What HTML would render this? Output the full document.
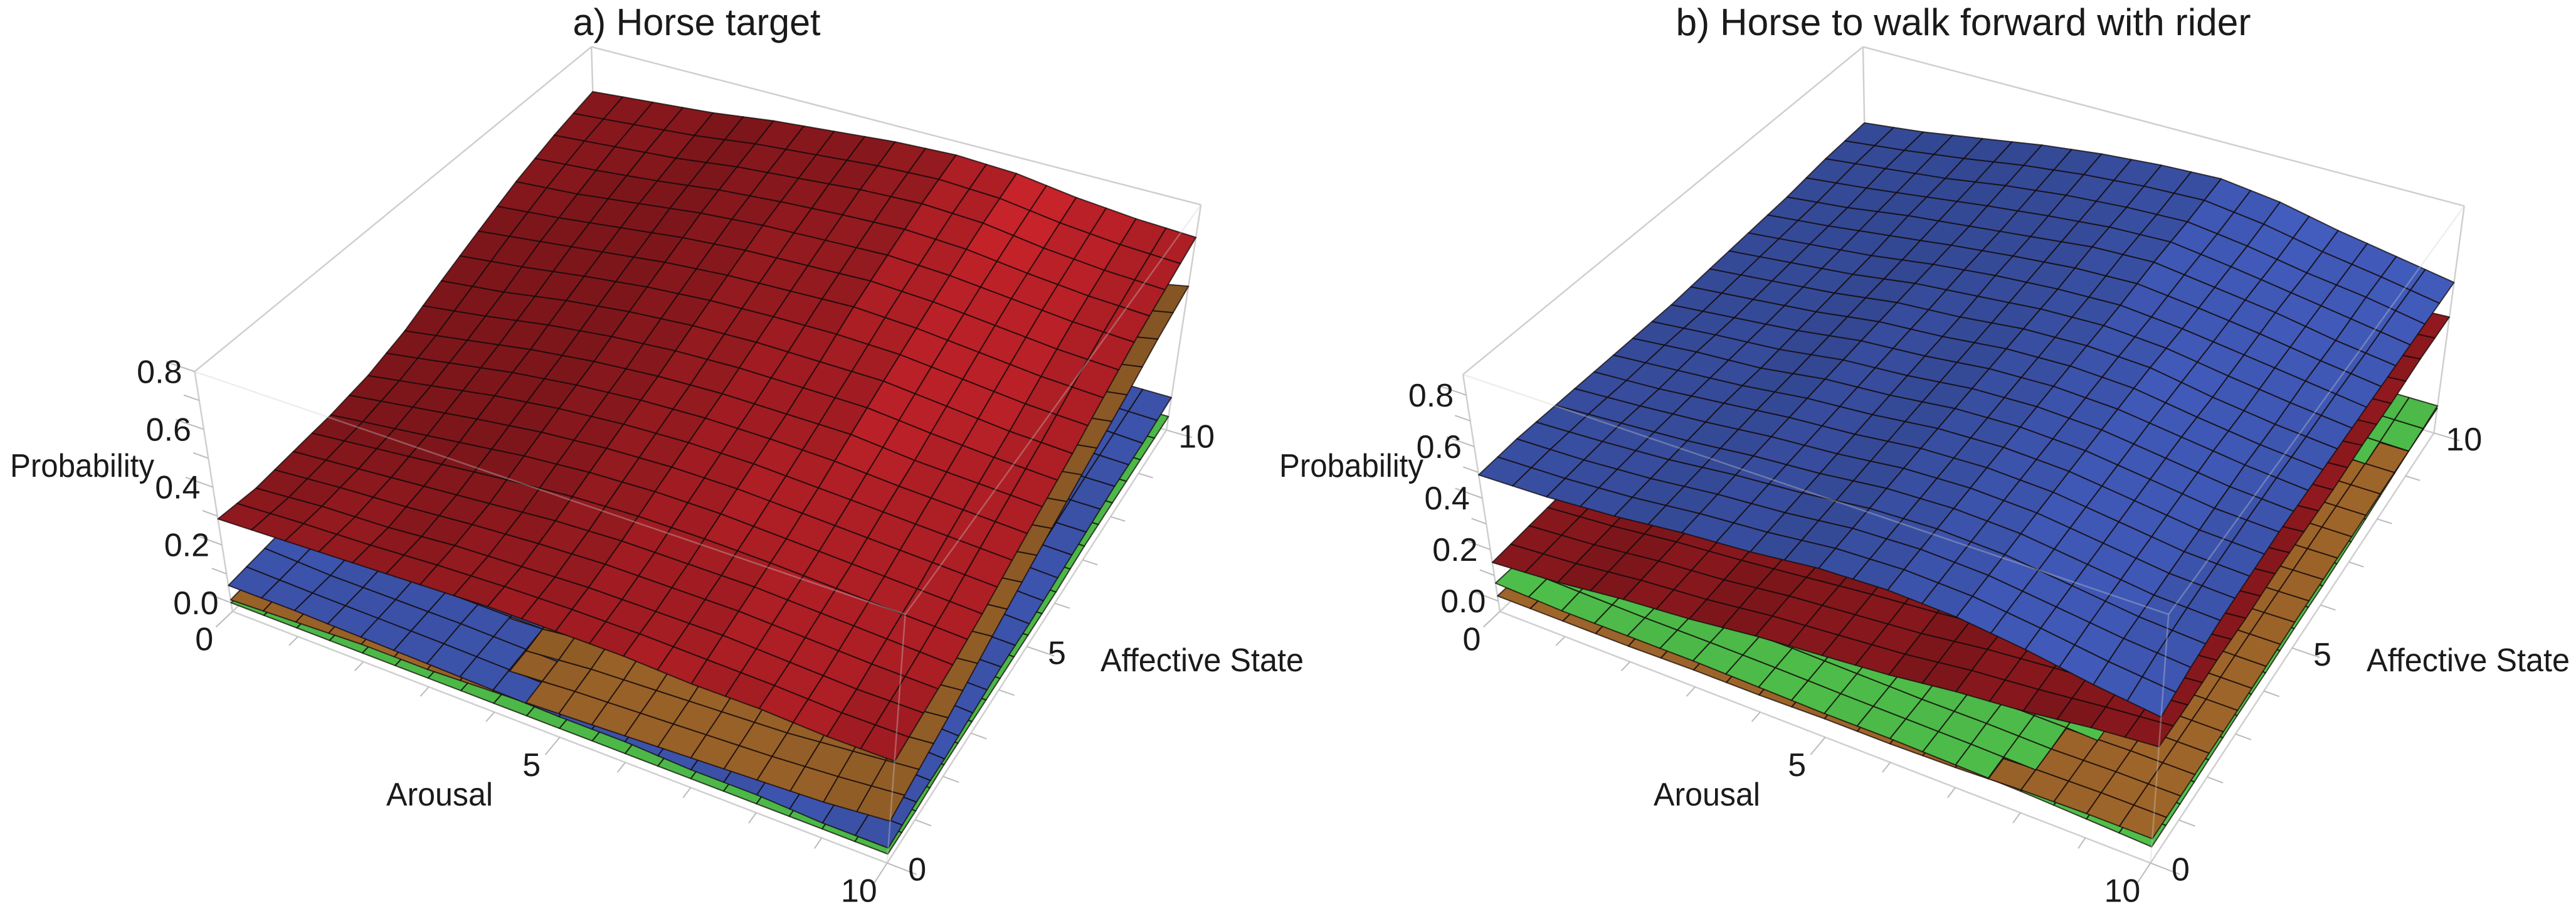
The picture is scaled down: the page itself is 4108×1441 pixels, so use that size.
<!DOCTYPE html>
<html><head><meta charset="utf-8"><style>
html,body{margin:0;padding:0;background:#fff;}
svg{display:block;}
text{font-family:"Liberation Sans Narrow","Liberation Sans",sans-serif;fill:#1a1a1a;}
</style></head><body>
<svg id="chart" width="4108" height="1441" viewBox="0 0 4108 1441" xmlns="http://www.w3.org/2000/svg">
<g id="panelA"></g>
<g id="panelB"></g>
</svg>
<script>
// ---- data: rows = arousal 0..10, columns = affective state 0..10 ----
const zTicks=[0,0.2,0.4,0.6,0.8];
const zTickLabels=["0.0","0.2","0.4","0.6","0.8"];
const xTicks=[0,5,10];
const xTickLabels=["0","5","10"];

const redA=[
[.29,.28,.29,.30,.32,.36,.42,.48,.54,.59,.63],
[.30,.30,.31,.33,.36,.40,.45,.51,.56,.61,.65],
[.31,.31,.33,.36,.40,.44,.49,.54,.59,.63,.67],
[.32,.33,.35,.39,.43,.47,.52,.57,.62,.66,.70],
[.33,.34,.37,.41,.45,.49,.54,.59,.64,.68,.72],
[.33,.35,.38,.42,.46,.50,.55,.60,.65,.70,.74],
[.33,.35,.38,.42,.46,.50,.55,.61,.66,.71,.75],
[.32,.35,.38,.41,.45,.50,.55,.60,.65,.70,.74],
[.32,.34,.37,.40,.44,.48,.53,.58,.63,.67,.71],
[.31,.33,.36,.39,.43,.47,.51,.56,.61,.65,.69],
[.31,.33,.35,.38,.42,.46,.50,.55,.60,.64,.68]];
const orangeA=[
[.01,.02,.03,.04,.05,.07,.08,.10,.11,.13,.15],
[.02,.03,.04,.06,.08,.09,.11,.13,.15,.16,.18],
[.03,.04,.05,.07,.10,.12,.14,.16,.18,.20,.22],
[.03,.04,.06,.09,.11,.14,.16,.18,.21,.23,.25],
[.04,.05,.07,.10,.13,.16,.18,.21,.24,.26,.29],
[.05,.07,.10,.12,.15,.18,.21,.24,.27,.29,.32],
[.06,.08,.11,.14,.17,.20,.23,.26,.29,.32,.36],
[.07,.09,.12,.15,.19,.22,.25,.29,.32,.36,.39],
[.08,.10,.14,.17,.21,.24,.28,.31,.35,.39,.43],
[.09,.12,.15,.19,.23,.26,.30,.34,.38,.42,.46],
[.11,.14,.17,.21,.25,.29,.33,.37,.41,.46,.50]];
const blueA=[
[.06,.07,.08,.08,.09,.10,.10,.11,.12,.12,.13],
[.06,.06,.07,.08,.09,.09,.10,.11,.11,.12,.13],
[.055,.06,.07,.07,.08,.09,.10,.10,.11,.12,.12],
[.05,.06,.065,.07,.08,.08,.09,.10,.11,.11,.12],
[.045,.055,.065,.07,.07,.08,.09,.09,.10,.11,.11],
[.04,.05,.05,.06,.07,.08,.08,.09,.10,.10,.11],
[.04,.04,.05,.06,.06,.07,.08,.09,.09,.10,.11],
[.03,.04,.05,.05,.06,.07,.07,.08,.09,.10,.10],
[.03,.04,.04,.05,.06,.06,.07,.08,.08,.09,.10],
[.02,.03,.04,.05,.05,.06,.07,.07,.08,.09,.09],
[.02,.03,.03,.04,.05,.05,.06,.07,.08,.08,.09]];
const greenA=[
[.00,.00,.01,.01,.01,.01,.01,.02,.02,.02,.02],
[.00,.00,.01,.01,.01,.01,.01,.02,.02,.02,.02],
[.00,.00,.01,.01,.01,.01,.01,.02,.02,.02,.02],
[.00,.00,.01,.01,.01,.01,.01,.02,.02,.02,.02],
[.00,.00,.01,.01,.01,.01,.01,.02,.02,.02,.02],
[.00,.00,.01,.01,.01,.01,.01,.02,.02,.02,.02],
[.00,.00,.01,.01,.01,.01,.01,.02,.02,.02,.02],
[.00,.00,.01,.01,.01,.01,.01,.02,.02,.02,.02],
[.00,.00,.01,.01,.01,.01,.01,.02,.02,.02,.02],
[.00,.00,.01,.01,.01,.01,.01,.02,.02,.02,.02],
[.00,.00,.01,.01,.01,.01,.01,.02,.02,.02,.02]];

const blueB=[
[.49,.50,.50,.50,.50,.50,.51,.52,.53,.55,.56],
[.50,.51,.52,.52,.53,.53,.54,.55,.56,.58,.59],
[.52,.53,.54,.55,.55,.56,.57,.58,.60,.61,.63],
[.55,.56,.57,.58,.59,.60,.61,.62,.63,.65,.67],
[.57,.58,.59,.60,.61,.62,.63,.65,.66,.68,.70],
[.60,.61,.62,.63,.64,.65,.66,.67,.69,.70,.72],
[.61,.62,.63,.64,.65,.66,.67,.68,.70,.71,.73],
[.60,.61,.62,.63,.64,.65,.66,.66,.67,.68,.70],
[.57,.58,.59,.60,.61,.62,.62,.63,.64,.64,.65],
[.53,.55,.56,.57,.58,.59,.59,.60,.60,.61,.61],
[.50,.53,.55,.56,.57,.57,.57,.57,.57,.57,.57]];
const redB=[
[.15,.16,.17,.18,.19,.20,.21,.22,.23,.24,.25],
[.17,.18,.19,.20,.21,.22,.23,.24,.25,.26,.27],
[.20,.21,.22,.23,.23,.24,.25,.26,.27,.28,.29],
[.22,.23,.24,.25,.26,.26,.27,.28,.29,.30,.31],
[.25,.26,.26,.27,.28,.29,.29,.30,.31,.32,.33],
[.27,.28,.29,.29,.30,.31,.31,.32,.33,.34,.35],
[.29,.30,.31,.31,.32,.33,.33,.34,.35,.36,.36],
[.32,.33,.33,.34,.34,.35,.36,.36,.37,.38,.38],
[.34,.35,.35,.36,.36,.37,.37,.38,.39,.39,.40],
[.37,.37,.38,.38,.39,.39,.40,.40,.41,.41,.42],
[.39,.39,.40,.40,.41,.41,.41,.42,.42,.43,.43]];
const greenB=[
[.07,.07,.07,.08,.08,.09,.09,.09,.10,.10,.11],
[.06,.07,.07,.07,.08,.08,.09,.09,.09,.10,.10],
[.06,.06,.07,.07,.07,.08,.08,.09,.09,.09,.10],
[.06,.06,.06,.07,.07,.07,.08,.08,.09,.09,.09],
[.055,.06,.06,.06,.07,.07,.07,.08,.08,.09,.09],
[.05,.055,.06,.06,.065,.07,.07,.075,.08,.08,.09],
[.05,.05,.055,.06,.06,.065,.07,.07,.075,.08,.085],
[.045,.05,.05,.055,.06,.06,.065,.07,.07,.075,.08],
[.04,.045,.05,.05,.055,.055,.06,.065,.07,.07,.075],
[.03,.035,.04,.045,.045,.05,.05,.055,.06,.065,.07],
[.02,.02,.025,.03,.03,.035,.035,.04,.05,.06,.07]];
const orangeB=[
[.02,.02,.02,.03,.03,.03,.03,.03,.04,.04,.04],
[.02,.02,.03,.03,.03,.03,.03,.04,.04,.04,.04],
[.02,.03,.03,.03,.03,.03,.04,.04,.04,.04,.05],
[.025,.025,.03,.03,.03,.035,.035,.04,.04,.045,.045],
[.025,.03,.03,.03,.035,.035,.035,.04,.04,.045,.045],
[.03,.03,.03,.035,.035,.035,.04,.04,.045,.045,.045],
[.03,.03,.035,.035,.035,.04,.04,.04,.045,.045,.05],
[.035,.035,.035,.04,.04,.04,.045,.045,.045,.05,.05],
[.045,.045,.045,.05,.05,.05,.05,.05,.055,.055,.055],
[.05,.05,.05,.05,.055,.055,.055,.06,.06,.06,.06],
[.05,.05,.05,.05,.055,.06,.06,.06,.06,.06,.06]];

const NS="http://www.w3.org/2000/svg";
const SX=2054/1568, SY=1441/1545;

function makeProj(c,zmin,zmax,offX){
  return function(a,s,z){
    const u=a/10,v=s/10,w=(z-zmin)/(zmax-zmin);
    function bil(P00,P10,P11,P01){
      return [P00[0]*(1-u)*(1-v)+P10[0]*u*(1-v)+P11[0]*u*v+P01[0]*(1-u)*v,
              P00[1]*(1-u)*(1-v)+P10[1]*u*(1-v)+P11[1]*u*v+P01[1]*(1-u)*v];
    }
    const b=bil(c.L,c.F,c.R,c.B), t=bil(c.TL,c.TF,c.TR,c.TB);
    return [offX+(b[0]*(1-w)+t[0]*w)*SX,(b[1]*(1-w)+t[1]*w)*SY];
  };
}
function val(d,a,s){
  const i=Math.min(9,Math.floor(a)),j=Math.min(9,Math.floor(s));
  const fu=a-i,fv=s-j;
  return d[i][j]*(1-fu)*(1-fv)+d[i+1][j]*fu*(1-fv)+d[i+1][j+1]*fu*fv+d[i][j+1]*(1-fu)*fv;
}
function hex2rgb(h){return [parseInt(h.substr(1,2),16),parseInt(h.substr(3,2),16),parseInt(h.substr(5,2),16)];}
function shade(rgb,f){return 'rgb('+rgb.map(c=>Math.max(0,Math.min(255,Math.round(c*f)))).join(',')+')';}
function el(tag,attrs,parent){const e=document.createElementNS(NS,tag);for(const k in attrs)e.setAttribute(k,attrs[k]);parent.appendChild(e);return e;}
function pts(arr){return arr.map(p=>p[0].toFixed(1)+','+p[1].toFixed(1)).join(' ');}

function drawPanel(g,cfg){
  const P=makeProj(cfg.c,cfg.zmin,cfg.zmax,cfg.offX);
  const zb=cfg.zmin;
  const C={L:P(0,0,zb),F:P(10,0,zb),R:P(10,10,zb),B:P(0,10,zb),
           TL:P(0,0,cfg.zmax),TF:P(10,0,cfg.zmax),TR:P(10,10,cfg.zmax),TB:P(0,10,cfg.zmax)};
  const back=[['L','B'],['B','R'],['B','TB'],['TL','TB'],['TB','TR'],['TL','L'],['R','TR'],['L','F'],['F','R']];
  back.forEach(e=>{
    const ln=el('line',{x1:C[e[0]][0],y1:C[e[0]][1],x2:C[e[1]][0],y2:C[e[1]][1],stroke:'#cfcfcf','stroke-width':2.5},g);
    
    
  });
  for(let k=0;k<=10;k++){
    const len=(k%5===0)?0.45:0.25;
    const p1=P(k,0,zb),p2=P(k,-len,zb);
    const t1=el('line',{x1:p1[0],y1:p1[1],x2:p2[0],y2:p2[1],stroke:'#bbb','stroke-width':2},g);
    
    
    const q1=P(10,k,zb),q2=P(10+len,k,zb);
    const t2=el('line',{x1:q1[0],y1:q1[1],x2:q2[0],y2:q2[1],stroke:'#bbb','stroke-width':2},g);
    
    
  }
  for(let z=0;z<=0.8001;z+=0.1){
    const len=(Math.round(z*10)%2===0)?0.4:0.22;
    const p1=P(0,0,z),p2=P(-len,0,z);
    const t3=el('line',{x1:p1[0],y1:p1[1],x2:p2[0],y2:p2[1],stroke:'#bbb','stroke-width':2},g);
    
    
  }
  const quads=[];
  const N=20, st=10/N;
  cfg.surfaces.forEach(sf=>{
    const rgb=hex2rgb(sf.color);
    for(let i=0;i<N;i++)for(let j=0;j<N;j++){
      const a0=i*st,a1=(i+1)*st,s0=j*st,s1=(j+1)*st;
      const z00=val(sf.data,a0,s0),z10=val(sf.data,a1,s0),z11=val(sf.data,a1,s1),z01=val(sf.data,a0,s1);
      const dzda=((z10+z11)-(z00+z01))/2/st;
      const dzds=((z01+z11)-(z00+z10))/2/st;
      let f=1-sf.k*dzda+sf.ks*dzds; f=Math.max(0.78,Math.min(1.28,f));
      quads.push({z:(z00+z10+z11+z01)/4,name:sf.name,
        p:[P(a0,s0,z00),P(a1,s0,z10),P(a1,s1,z11),P(a0,s1,z01)],fill:shade(rgb,f)});
    }
  });
  quads.sort((q1,q2)=>q1.z-q2.z);
  quads.forEach(q=>{
    const pg=el('polygon',{points:pts(q.p),fill:q.fill,stroke:'rgba(20,10,10,0.75)','stroke-width':2,'stroke-linejoin':'round'},g);
    
    
  });
  [['TL','TF'],['TF','TR'],['F','TF']].forEach(e=>{
    const ln=el('line',{x1:C[e[0]][0],y1:C[e[0]][1],x2:C[e[1]][0],y2:C[e[1]][1],stroke:'#cfcfcf','stroke-width':2.5,opacity:0.35},g);
    
    
  });
  zTicks.forEach((z,k)=>{
    const p=P(0,0,z);
    const t=el('text',{x:p[0]-20,y:p[1]+18,'font-size':52,'text-anchor':'end'},g);
    t.textContent=zTickLabels[k];
    
    
  });
  xTicks.forEach((x,k)=>{
    const p=P(x,0,zb);
    const t=el('text',{x:p[0]-45,y:p[1]+62,'font-size':52,'text-anchor':'middle'},g);
    t.textContent=xTickLabels[k];
    
    
    const q=P(10,x,zb);
    const t2=el('text',{x:q[0]+48,y:q[1]+28,'font-size':52,'text-anchor':'middle'},g);
    t2.textContent=xTickLabels[k];
    
    
  });
  const ti=el('text',{x:cfg.title.x,y:56,'font-size':60,'text-anchor':'middle',textLength:cfg.title.w,lengthAdjust:'spacingAndGlyphs'},g);
  ti.textContent=cfg.title.t;
  
  
  const pr=el('text',{x:cfg.prob.x,y:760,'font-size':52,textLength:230,lengthAdjust:'spacingAndGlyphs'},g);
  pr.textContent='Probability';
  
  
  const ar=el('text',{x:cfg.arousal.x,y:1284,'font-size':52,'text-anchor':'middle',textLength:170,lengthAdjust:'spacingAndGlyphs'},g);
  ar.textContent='Arousal';
  
  
  const af=el('text',{x:cfg.aff.x,y:1070,'font-size':52,textLength:324,lengthAdjust:'spacingAndGlyphs'},g);
  af.textContent='Affective State';
  
  
}

drawPanel(document.getElementById('panelA'),{
  offX:0,zmin:-0.03,zmax:0.80,
  c:{L:[283,1045],F:[1080,1475],R:[1420,735],B:[728,454],TL:[237,635],TF:[1102,1050],TR:[1462,350],TB:[720,80]},
  surfaces:[
    {name:'green-surface',data:greenA,color:'#4cb848',k:4,ks:0},
    {name:'blue-surface',data:blueA,color:'#3a51a6',k:4,ks:0},
    {name:'orange-surface',data:orangeA,color:'#9e652a',k:4,ks:0},
    {name:'red-surface',data:redA,color:'#a01c22',k:8,ks:0}],
  title:{t:'a) Horse target',x:1111,w:395},
  prob:{x:16},arousal:{x:701},aff:{x:1755}
});
drawPanel(document.getElementById('panelB'),{
  offX:2054,zmin:-0.04,zmax:0.88,
  c:{L:[258,1045],F:[1050,1475],R:[1395,740],B:[705,454],TL:[213,640],TF:[1072,1050],TR:[1432,352],TB:[700,80]},
  surfaces:[
    {name:'orange-surface',data:orangeB,color:'#9e652a',k:4,ks:0},
    {name:'green-surface',data:greenB,color:'#4cb848',k:4,ks:0},
    {name:'red-surface',data:redB,color:'#a01c22',k:8,ks:0},
    {name:'blue-surface',data:blueB,color:'#3a51a6',k:3,ks:0}],
  title:{t:'b) Horse to walk forward with rider',x:3131,w:917},
  prob:{x:2040},arousal:{x:2722},aff:{x:3774}
});
</script>
</body></html>
